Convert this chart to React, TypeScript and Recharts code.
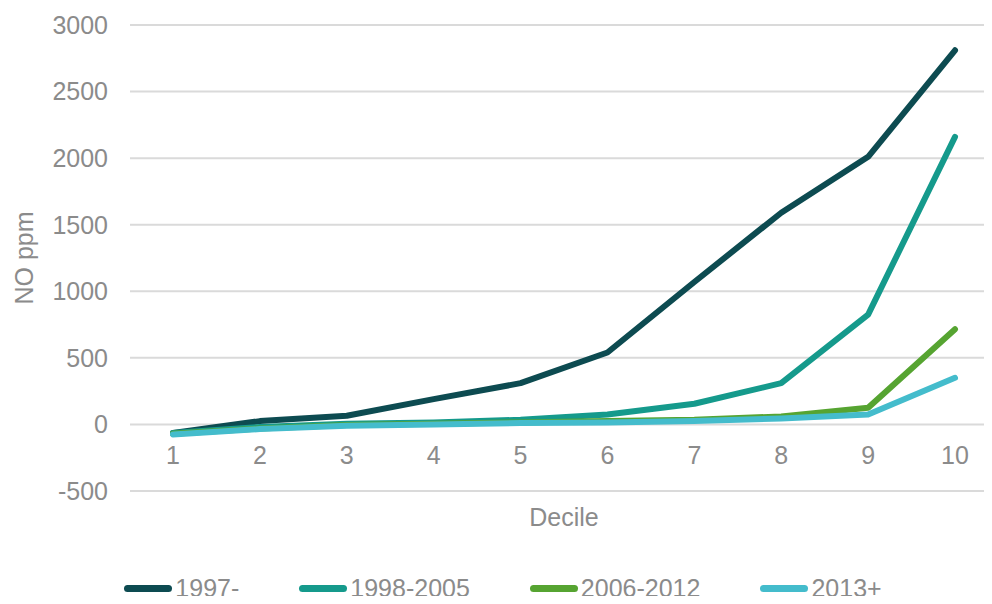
import { LineChart, Line, XAxis, YAxis, CartesianGrid, Legend } from 'recharts'

const DECILES = ['1', '2', '3', '4', '5', '6', '7', '8', '9', '10']
const S_1997 = [-65, 25, 65, 190, 310, 540, 1070, 1590, 2010, 2810]
const S_1998_2005 = [-65, -20, 5, 15, 35, 75, 155, 310, 825, 2160]
const S_2006_2012 = [-70, -30, -5, 5, 15, 25, 35, 60, 125, 715]
const S_2013 = [-75, -35, -10, 0, 10, 15, 25, 45, 75, 350]
const Y_TICKS = [-500, 0, 500, 1000, 1500, 2000, 2500, 3000]

const SERIES = [
  { key: 'a', name: '1997-', color: '#0d4b51', values: S_1997 },
  { key: 'b', name: '1998-2005', color: '#159a8c', values: S_1998_2005 },
  { key: 'c', name: '2006-2012', color: '#56a431', values: S_2006_2012 },
  { key: 'd', name: '2013+', color: '#44bccc', values: S_2013 },
]

const data = DECILES.map((d, i) => {
  const row: Record<string, string | number> = { decile: d }
  SERIES.forEach((s) => {
    row[s.key] = s.values[i]
  })
  return row
})

const TEXT = '#8b8b8b'
const FONT = '"Liberation Sans", Arial, sans-serif'

function XTick(props: any) {
  const { x, y, payload } = props
  return (
    <text x={x} y={y} dy={-35} textAnchor="middle" fill={TEXT} fontSize={25} fontFamily={FONT}>
      {payload.value}
    </text>
  )
}

function LegendContent() {
  return (
    <div
      style={{
        display: 'flex',
        justifyContent: 'center',
        gap: 60,
        fontFamily: FONT,
        fontSize: 25,
        lineHeight: '28px',
        color: TEXT,
        paddingTop: 20,
        paddingLeft: 8,
      }}
    >
      {SERIES.map((s) => (
        <div key={s.key} style={{ display: 'flex', alignItems: 'center' }}>
          <div style={{ width: 48, height: 7, borderRadius: 4, background: s.color, marginRight: 3 }} />
          <span>{s.name}</span>
        </div>
      ))}
    </div>
  )
}

export default function App() {
  return (
    <div style={{ margin: -8, width: 992, height: 604, overflow: 'hidden', background: '#fff' }}>
      <LineChart width={1000} height={604} data={data} margin={{ top: 25, right: 2, left: 0, bottom: 0 }}>
        <CartesianGrid vertical={false} stroke="#dadada" strokeWidth={2} />
        <XAxis
          dataKey="decile"
          axisLine={false}
          tickLine={false}
          height={63}
          padding={{ left: 43, right: 43 }}
          tick={<XTick />}
          interval={0}
          label={{ value: 'Decile', position: 'insideBottom', offset: 28, fill: TEXT, fontSize: 25, fontFamily: FONT }}
        />
        <YAxis
          domain={[-500, 3000]}
          ticks={Y_TICKS}
          width={130}
          axisLine={false}
          tickLine={false}
          tickSize={0}
          tickMargin={22}
          tick={{ fill: TEXT, fontSize: 25, fontFamily: FONT }}
          label={{
            value: 'NO ppm',
            angle: -90,
            position: 'insideLeft',
            offset: 24,
            fill: TEXT,
            fontSize: 25,
            fontFamily: FONT,
            style: { textAnchor: 'middle' },
          }}
        />
        <Legend verticalAlign="bottom" height={50} content={<LegendContent />} />
        {SERIES.map((s) => (
          <Line
            key={s.key}
            dataKey={s.key}
            name={s.name}
            stroke={s.color}
            strokeWidth={6}
            strokeLinecap="round"
            strokeLinejoin="round"
            dot={false}
            activeDot={false}
            isAnimationActive={false}
          />
        ))}
      </LineChart>
    </div>
  )
}
